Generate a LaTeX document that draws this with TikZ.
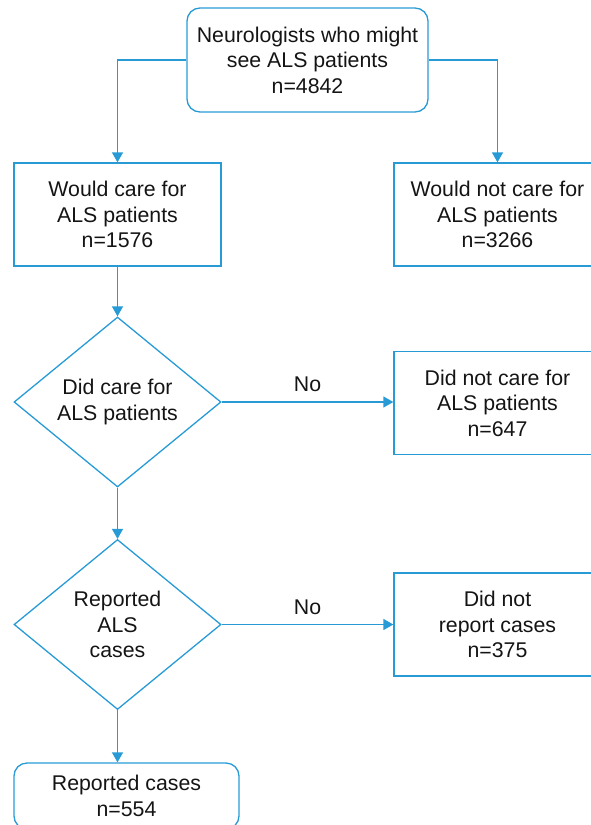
\documentclass[tikz,border=0pt]{standalone}
\usepackage{fontspec}
\setmainfont{Liberation Sans}
\usetikzlibrary{arrows.meta,shapes.geometric}
\definecolor{lineblue}{RGB}{40,155,215}
\definecolor{txt}{RGB}{20,20,20}
\tikzset{
  every node/.style={font=\fontsize{21.3}{25.5}\selectfont, text=txt, align=center},
  box/.style={draw=lineblue, line width=1.3pt, rectangle, minimum width=207pt, minimum height=103pt, inner sep=0pt},
  rbox/.style={draw=lineblue, line width=1.3pt, rectangle, rounded corners=13pt, inner sep=0pt},
  dia/.style={draw=lineblue, line width=1.3pt, diamond, minimum width=207pt, minimum height=170pt, inner sep=0pt},
  conn/.style={draw=lineblue, line width=1.3pt, -{Triangle[length=10pt,width=11pt]}},
}
\begin{document}
\begin{tikzpicture}[x=1pt,y=-1pt]
\useasboundingbox (0,0) rectangle (591,825);
\node[rbox, minimum width=241pt, minimum height=104pt] (top) at (307.5,60) {Neurologists who might\\see ALS patients\\n=4842};
\node[box] (would) at (117.5,214.5) {Would care for\\ALS patients\\n=1576};
\node[box] (wouldnot) at (497.5,214.5) {Would not care for\\ALS patients\\n=3266};
\node[dia] (d1) at (117.5,402) {Did care for\\ALS patients};
\node[box] (didnot) at (497.5,403) {Did not care for\\ALS patients\\n=647};
\node[dia] (d2) at (117.5,624.5) {Reported\\ALS\\cases};
\node[box] (norep) at (497.5,624.5) {Did not\\report cases\\n=375};
\node[rbox, minimum width=225pt, minimum height=66pt] (rep) at (126.5,796) {Reported cases\\n=554};
\draw[conn] (top.west) -| (would.north);
\draw[conn] (top.east) -| (wouldnot.north);
\draw[conn] (would.south) -- (d1.north);
\draw[conn] (d1.east) -- node[above=6pt] (no1) {No} (didnot.west |- d1.east);
\draw[conn] (d1.south) -- (d2.north);
\draw[conn] (d2.east) -- node[above=6pt] (no2) {No} (norep.west |- d2.east);
\draw[conn] (d2.south) -- (d2.south |- rep.north);
\end{tikzpicture}
\end{document}
